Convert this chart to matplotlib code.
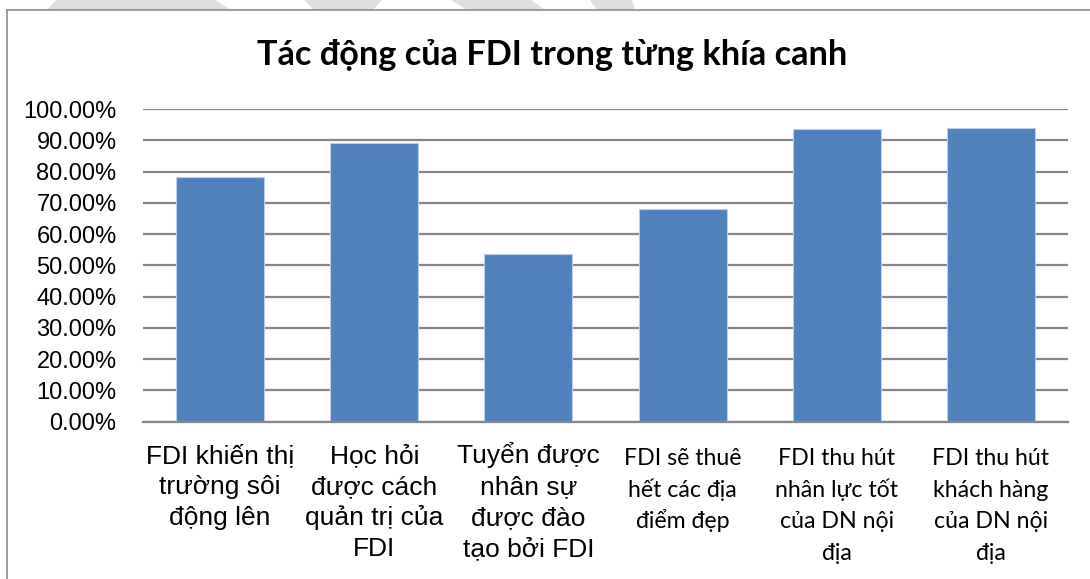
import matplotlib
matplotlib.use('Agg')
import matplotlib.pyplot as plt
from matplotlib.patches import Polygon
from matplotlib.lines import Line2D
from matplotlib.ticker import FuncFormatter
from matplotlib.transforms import blended_transform_factory, offset_copy

title = "Tác động của FDI trong từng khía canh"
categories = [
    "FDI khiến thị\ntrường sôi\nđộng lên",
    "Học hỏi\nđược cách\nquản trị của\nFDI",
    "Tuyển được\nnhân sự\nđược đào\ntạo bởi FDI",
    "FDI sẽ thuê\nhết các địa\nđiểm đẹp",
    "FDI thu hút\nnhân lực tốt\ncủa DN nội\nđịa",
    "FDI thu hút\nkhách hàng\ncủa DN nội\nđịa",
]
values = [0.781, 0.890, 0.535, 0.681, 0.935, 0.939]
yticks = [i / 10 for i in range(11)]

arial = ['Liberation Sans', 'DejaVu Sans']
calibri = ['Lato', 'Noto Sans', 'DejaVu Sans']

W, H = 1090, 579
fig = plt.figure(figsize=(W / 100, H / 100), dpi=100)

# faint watermark shapes peeking out above the chart frame
# (top-left, bottom-left, bottom-right, top-right) in pixels
for xs in [(56, 47, 231, 215), (304, 314, 373, 382), (451, 467, 545, 531), (590, 597, 635, 632)]:
    pts = [(xs[0] / W, 1), (xs[1] / W, 1 - 10 / H), (xs[2] / W, 1 - 10 / H), (xs[3] / W, 1)]
    fig.patches.append(Polygon(pts, closed=True, transform=fig.transFigure,
                               facecolor='#dedede', edgecolor='none', zorder=0))

# chart frame (left and top edges visible)
fig.add_artist(Line2D([7 / W, 7 / W], [0, 1 - 10 / H], color='#8c8c8c', lw=1.2,
                      transform=fig.transFigure))
fig.add_artist(Line2D([7 / W, 1], [1 - 10 / H, 1 - 10 / H], color='#8c8c8c', lw=1.2,
                      transform=fig.transFigure))

ax = fig.add_axes([143 / W, 1 - 421.7 / H, (1068 - 143) / W, (421.7 - 109) / H])

x = list(range(len(categories)))
ax.bar(x, values, width=0.571, color='#4F81BD', edgecolor='#b9cde5', linewidth=0.8, zorder=3)

ax.set_xlim(-0.5, len(categories) - 0.5)
ax.set_ylim(0, 1)
ax.set_yticks(yticks)
ax.yaxis.set_major_formatter(FuncFormatter(lambda v, p: f"{v * 100:.2f}%"))
ax.grid(axis='y', color='#868686', linewidth=1.6, zorder=0)
ax.set_axisbelow(True)

for s in ['top', 'right', 'left']:
    ax.spines[s].set_visible(False)
ax.spines['bottom'].set_color('#868686')
ax.spines['bottom'].set_linewidth(1.6)
ax.spines['bottom'].set_zorder(4)

ax.tick_params(axis='y', length=0, pad=19)
for lbl in ax.get_yticklabels():
    lbl.set_fontfamily(arial)
    lbl.set_fontsize(17)

# category labels, drawn line by line so the baselines line up like Excel
ax.set_xticks(x)
ax.set_xticklabels([])
ax.tick_params(axis='x', length=0)
trans = blended_transform_factory(ax.transData, ax.transAxes)
for i, lab in enumerate(categories):
    if i < 3:
        fam, size, first, step = arial, 19, 41.3, 31.0
    else:
        fam, size, first, step = calibri, 16.7, 43.3, 31.7
    for j, line in enumerate(lab.split('\n')):
        t = offset_copy(trans, fig=fig, y=-(first + j * step), units='dots')
        ax.text(i, 0, line, transform=t, ha='center', va='baseline',
                family=fam, fontsize=size, clip_on=False)

fig.text(552.5 / W, 1 - 65 / H, title, ha='center', va='baseline',
         fontsize=24.7, fontweight='bold', family=calibri)

fig.savefig('out.png', dpi=100)
